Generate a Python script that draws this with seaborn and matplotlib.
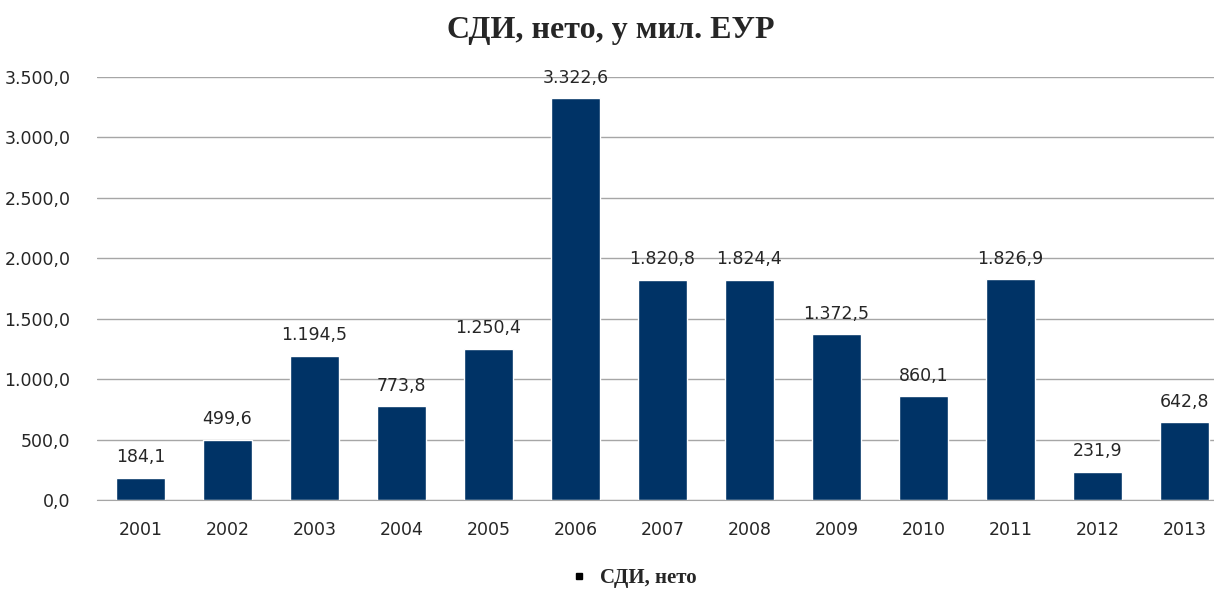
import numpy as np
import pandas as pd
import matplotlib.pyplot as plt
import seaborn as sns
from matplotlib.lines import Line2D

# Data
years = ['2001', '2002', '2003', '2004', '2005', '2006', '2007',
         '2008', '2009', '2010', '2011', '2012', '2013']
fdi_net = [184.1, 499.6, 1194.5, 773.8, 1250.4, 3322.6, 1820.8,
           1824.4, 1372.5, 860.1, 1826.9, 231.9, 642.8]
yticks = [0, 500, 1000, 1500, 2000, 2500, 3000, 3500]


def fmt(v):
    s = f"{v:,.1f}"
    return s.replace(',', 'X').replace('.', ',').replace('X', '.')


df = pd.DataFrame({'year': years, 'value': fdi_net})

sns.set_style('white')
plt.rcParams['font.family'] = ['DejaVu Sans']

fig = plt.figure(figsize=(12.14, 5.9), dpi=100)
ax = fig.add_axes([97 / 1214, 90 / 590, (1214 - 97) / 1214, 423 / 590])

bar_color = '#003366'
sns.barplot(data=df, x='year', y='value', color=bar_color, width=0.56,
            saturation=1, ax=ax)

ax.set_ylim(0, 3500)
ax.set_xlim(-0.5, 12.34)
ax.set_yticks(yticks)
ax.set_yticklabels([fmt(v) for v in yticks], fontsize=12.5, color='#262626')
ax.tick_params(axis='x', labelsize=12.5, colors='#262626', length=0, pad=15)
ax.tick_params(axis='y', length=0, pad=19)
ax.set_xlabel('')
ax.set_ylabel('')
ax.grid(axis='y', color='#a6a6a6', linewidth=1)
ax.set_axisbelow(True)
for s in ['left', 'right', 'top']:
    ax.spines[s].set_visible(False)
ax.spines['bottom'].set_color('#a6a6a6')

for i, v in enumerate(fdi_net):
    ax.text(i, v + 95, fmt(v), ha='center', va='bottom', fontsize=12.5,
            color='#262626')

fig.text(0.503, 0.948, 'СДИ, нето, у мил. ЕУР', ha='center', va='center',
         fontsize=23, fontweight='bold', family='Liberation Serif')

handle = Line2D([], [], marker='s', linestyle='', color='black', markersize=5)
fig.legend([handle], ['СДИ, нето'], loc='center', bbox_to_anchor=(0.521, 0.02),
           frameon=False, prop={'family': 'Liberation Serif', 'weight': 'bold',
                                'size': 15}, handlelength=1.0, handletextpad=0.5)

fig.savefig('out.png', dpi=100)
